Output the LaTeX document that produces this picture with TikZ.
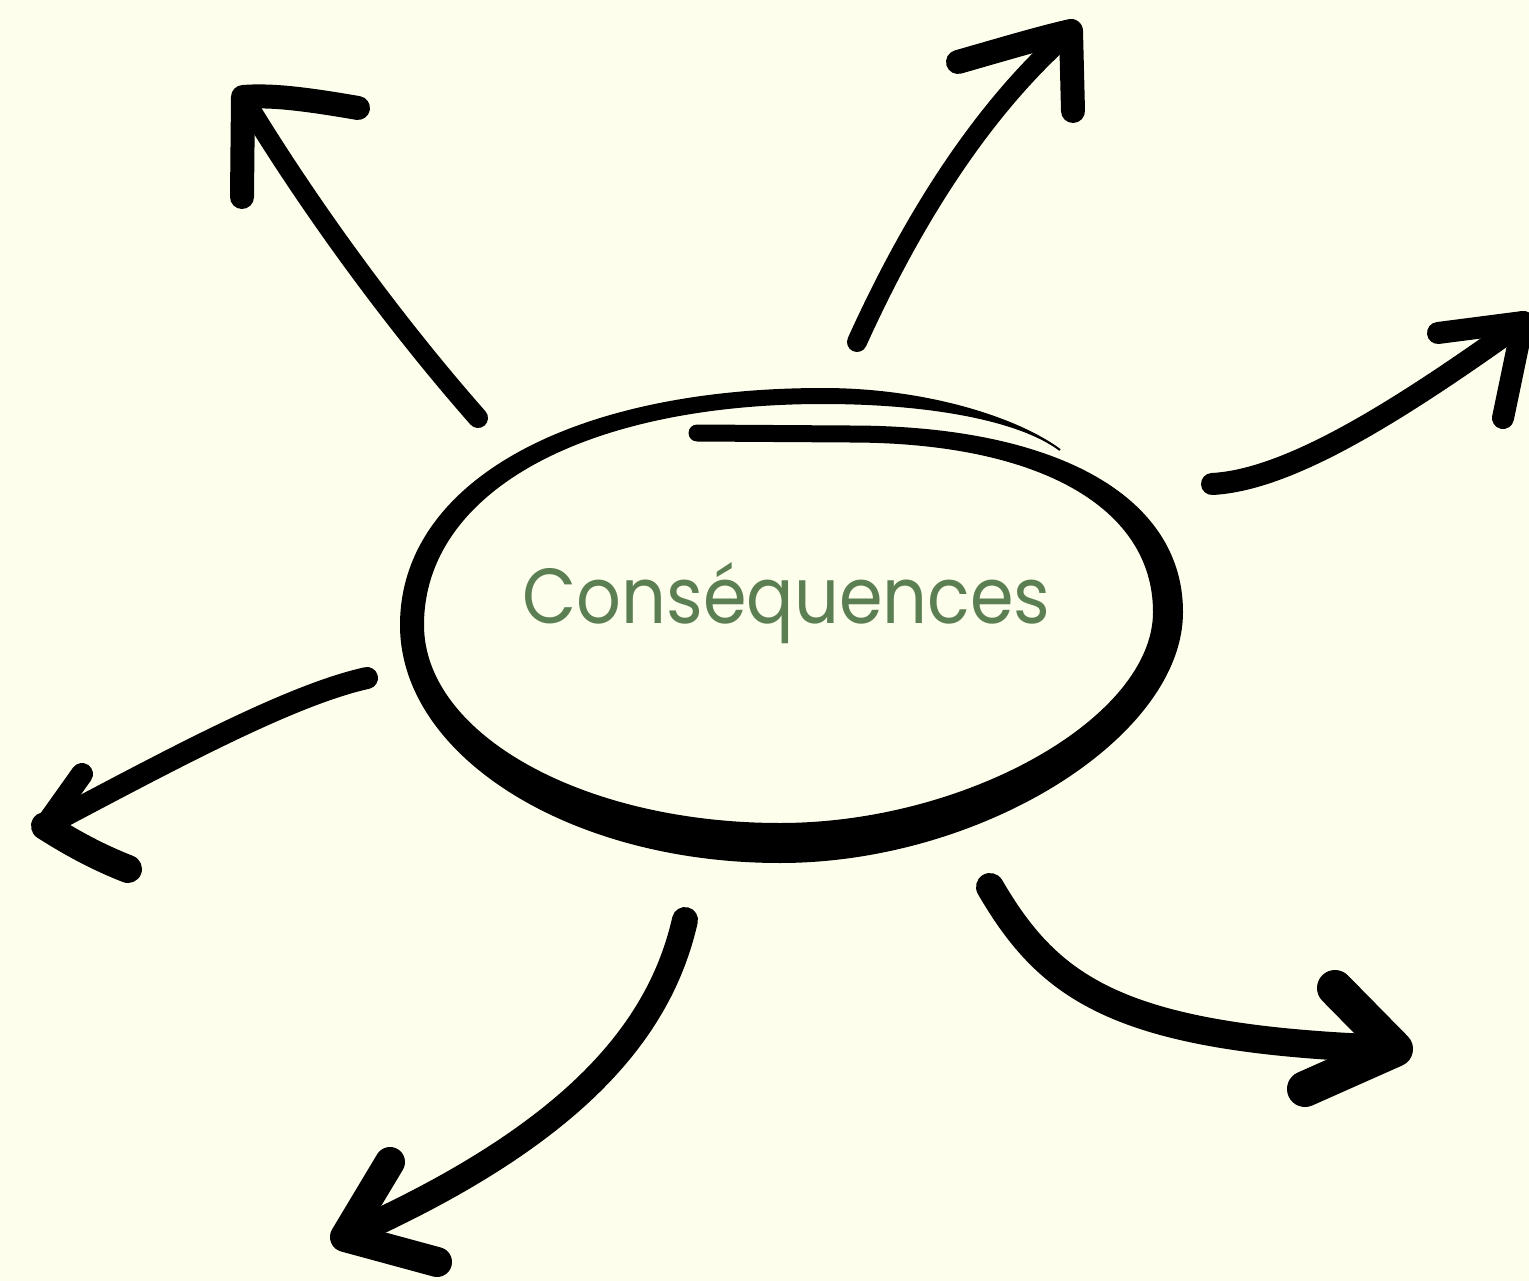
\documentclass[tikz,border=0pt]{standalone}
\usepackage{fontspec}
\newfontfamily\conseqfont{Poppins}
\definecolor{bgcream}{RGB}{254,254,236}
\definecolor{txtgreen}{RGB}{91,127,82}
\tikzset{every picture/.style={line width=0.75pt}}
\tikzset{
  shaft/.style={line width=#1, line cap=round, line join=round},
  head/.style={line width=#1, line cap=round, line join=round},
}

\begin{document}
\begin{tikzpicture}[x=1pt,y=1pt,yscale=-1,xscale=1]
%Background
\fill [bgcream] (0,0) rectangle (1529,1281);
\useasboundingbox (0,0) rectangle (1529,1281);

%Shape: Hand loop (outer edge forward, inner edge back)
\fill (697,424.5) -- (850,425.5)
  .. controls (1056.5,425.5) and (1183,496.4) .. (1183,612)
  .. controls (1183,737.5) and (981.5,863) .. (780,863)
  .. controls (570.1,863) and (400,756.4) .. (400,625)
  .. controls (400,482.8) and (569.2,388) .. (823,388)
  .. controls (930,388) and (1020.6,419.2) .. (1060.6,449.2)
  -- (1059.4,450.8)
  .. controls (1019.4,420.8) and (930,404) .. (823,404)
  .. controls (583.6,404) and (424,492.4) .. (424,625)
  .. controls (424,734.4) and (583.4,823) .. (780,823)
  .. controls (966.5,823) and (1153,717.5) .. (1153,612)
  .. controls (1153,506.9) and (1037.9,442.5) .. (850,442.5)
  -- (697,441.5) arc[start angle=90,end angle=270,radius=8.5] -- cycle;

% Text Node
\node [anchor=base, inner sep=0pt, text=txtgreen, font=\conseqfont\fontsize{78}{94}\selectfont] (conseq) at (786.5,623) {\scalebox{0.9}[1]{Conséquences}};

%Curve Lines: north west
\coordinate (nwS) at (478,418);
\coordinate (nwT) at (243,97);
\coordinate (nwA) at (358,108);
\coordinate (nwB) at (242,197);
\draw [shaft=20] (nwS) .. controls (390,318) and (305,200) .. (nwT);
\draw [head=24] (nwA) .. controls (300,98) and (270,95) .. (nwT) -- (nwB);

%Curve Lines: north east
\coordinate (neS) at (857,342);
\coordinate (neT) at (1071,31);
\coordinate (neA) at (958,62);
\coordinate (neB) at (1073,111);
\draw [shaft=20] (neS) .. controls (910,225) and (980,110) .. (neT);
\draw [head=24] (neA) .. controls (1000,50) and (1040,38) .. (neT) -- (neB);

%Curve Lines: east
\coordinate (eS) at (1212,484);
\coordinate (eT) at (1523,322);
\coordinate (eA) at (1438,333);
\coordinate (eB) at (1503,418);
\draw [shaft=22] (eS) .. controls (1290,480) and (1400,410) .. (eT);
\draw [head=22] (eA) -- (eT) -- (eB);

%Curve Lines: west
\coordinate (wS) at (367,678);
\coordinate (wT) at (45,826);
\coordinate (wA) at (82,774);
\coordinate (wB) at (128,869);
\draw [shaft=22] (wS) .. controls (290,695) and (170,760) .. (wT);
\draw [head=22] (wA) -- (wT);
\draw [head=28] (wT) .. controls (75,845) and (100,858) .. (wB);

%Curve Lines: south west
\coordinate (swS) at (685,920);
\coordinate (swT) at (345,1237);
\coordinate (swA) at (390,1162);
\coordinate (swB) at (437,1262);
\draw [shaft=26] (swS) .. controls (660,1030) and (575,1135) .. (swT);
\draw [head=30] (swA) -- (swT) -- (swB);

%Curve Lines: south east
\coordinate (seS) at (990,887);
\coordinate (seT) at (1395,1049);
\coordinate (seA) at (1335,988);
\coordinate (seB) at (1305,1089);
\draw [shaft=28] (seS) .. controls (1050,990) and (1120,1040) .. (seT);
\draw [head=36] (seA) -- (seT) -- (seB);

\end{tikzpicture}
\end{document}
